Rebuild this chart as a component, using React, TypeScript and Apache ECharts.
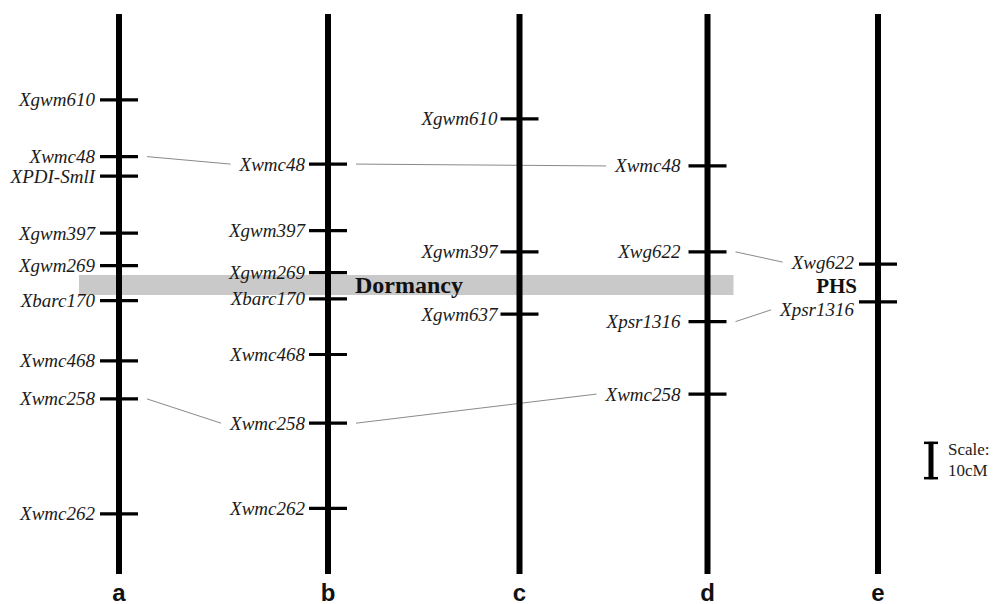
import React, { useEffect, useRef } from 'react';
import * as echarts from 'echarts';

// ---- data ----
const chromNames = ['a', 'b', 'c', 'd', 'e'];
const chromPos = [119, 328, 519.5, 707.5, 878]; // layout position along the x axis
const chromStart = 0; // cM
const chromEnd = 150; // cM

const markersA = ['Xgwm610', 'Xwmc48', 'XPDI-SmlI', 'Xgwm397', 'Xgwm269', 'Xbarc170', 'Xwmc468', 'Xwmc258', 'Xwmc262'];
const cMA = [23.0, 38.2, 43.4, 58.7, 67.4, 76.8, 92.9, 103.1, 133.9];
const markersB = ['Xwmc48', 'Xgwm397', 'Xgwm269', 'Xbarc170', 'Xwmc468', 'Xwmc258', 'Xwmc262'];
const cMB = [40.2, 58.0, 69.3, 76.3, 91.2, 109.6, 132.4];
const markersC = ['Xgwm610', 'Xgwm397', 'Xgwm637'];
const cMC = [28.1, 63.7, 80.4];
const markersD = ['Xwmc48', 'Xwg622', 'Xpsr1316', 'Xwmc258'];
const cMD = [40.7, 63.7, 82.4, 101.8];
const markersE = ['Xwg622', 'Xpsr1316'];
const cME = [67.0, 77.1];

const markerNames = [markersA, markersB, markersC, markersD, markersE];
const markerCM = [cMA, cMB, cMC, cMD, cME];

// homologous marker links: [fromChrom, marker, toChrom, marker]
const links = [
  ['a', 'Xwmc48', 'b', 'Xwmc48'],
  ['b', 'Xwmc48', 'd', 'Xwmc48'],
  ['d', 'Xwg622', 'e', 'Xwg622'],
  ['d', 'Xpsr1316', 'e', 'Xpsr1316'],
  ['a', 'Xwmc258', 'b', 'Xwmc258'],
  ['b', 'Xwmc258', 'd', 'Xwmc258'],
];

const qtlName = 'Dormancy';
const qtlStart = 69.9;
const qtlEnd = 75.3;
const phsName = 'PHS';

const scalePos = 931;
const scaleStart = 114.6;
const scaleLength = 10; // cM
const scaleLabels = ['Scale:', '10cM'];

// ---- styles ----
const SERIF = '"Liberation Serif", "Times New Roman", Times, serif';
const SANS = '"Liberation Sans", Arial, Helvetica, sans-serif';
const LABEL_FONT_SIZE = 19;
const labelGap = [5, 4, 3, 8, 5];
const labelOffset: Record<string, number> = { 'e:Xwg622': -2, 'e:Xpsr1316': 8 };
const TICK_HALF = 19;

let measureCtx: CanvasRenderingContext2D | null = null;
function textWidth(t: string, font: string) {
  if (!measureCtx) measureCtx = document.createElement('canvas').getContext('2d');
  if (!measureCtx) return t.length * 9;
  measureCtx.font = font;
  return measureCtx.measureText(t).width;
}
const labelFont = `italic ${LABEL_FONT_SIZE}px ${SERIF}`;

function idxOf(ch: string) {
  return chromNames.indexOf(ch);
}
function cmOf(ch: string, m: string) {
  const i = idxOf(ch);
  return markerCM[i][markerNames[i].indexOf(m)];
}

export default function App() {
  const ref = useRef<HTMLDivElement>(null);
  useEffect(() => {
    if (!ref.current) return;
    const chart = echarts.init(ref.current, undefined, { renderer: 'svg' });

    const markerData: number[][] = [];
    markerNames.forEach((list, ci) => {
      list.forEach((_, mi) => markerData.push([chromPos[ci], markerCM[ci][mi], ci, mi]));
    });

    const linkData = links.map((l, li) => [
      chromPos[idxOf(l[0])], cmOf(l[0], l[1]), chromPos[idxOf(l[2])], cmOf(l[2], l[3]), li,
    ]);

    const option: any = {
      animation: false,
      grid: { left: 0, right: 0, top: 14, bottom: 30 },
      xAxis: { type: 'value', min: 0, max: 993, show: false },
      yAxis: { type: 'value', min: 0, max: 150, inverse: true, show: false },
      series: [
        {
          type: 'custom',
          name: 'qtl',
          z: 1,
          silent: true,
          data: [[qtlStart, qtlEnd]],
          renderItem: (params: any, api: any) => {
            const xa = api.coord([chromPos[0], 0])[0] - 40;
            const xd = api.coord([chromPos[3], 0])[0] + 26;
            const xb = api.coord([chromPos[1], 0])[0];
            const y0 = api.coord([0, api.value(0)])[1];
            const y1 = api.coord([0, api.value(1)])[1];
            return {
              type: 'group',
              children: [
                { type: 'rect', shape: { x: xa, y: y0, width: xd - xa, height: y1 - y0 }, style: { fill: '#c9c9c9' } },
                {
                  type: 'text',
                  style: {
                    text: qtlName, x: xb + 27, y: (y0 + y1) / 2, align: 'left', verticalAlign: 'middle',
                    font: `bold 24px ${SERIF}`, fill: '#111',
                  },
                },
              ],
            };
          },
        },
        {
          type: 'custom',
          name: 'links',
          z: 2,
          silent: true,
          data: linkData,
          renderItem: (params: any, api: any) => {
            const li = api.value(4);
            const l = links[li];
            const p0 = api.coord([api.value(0), api.value(1)]);
            const p1 = api.coord([api.value(2), api.value(3)]);
            const toIdx = idxOf(l[2]);
            const w = textWidth(l[3], labelFont);
            const x0 = p0[0] + TICK_HALF + 9;
            const x1 = p1[0] - TICK_HALF - labelGap[toIdx] - w - 9;
            const y1 = p1[1] + (labelOffset[`${l[2]}:${l[3]}`] || 0);
            return {
              type: 'line',
              shape: { x1: x0, y1: p0[1], x2: x1, y2: y1 },
              style: { stroke: '#8a8a8a', lineWidth: 1 },
            };
          },
        },
        {
          type: 'custom',
          name: 'chromosomes',
          z: 3,
          silent: true,
          data: chromPos.map((p, i) => [p, chromStart, chromEnd, i]),
          renderItem: (params: any, api: any) => {
            const top = api.coord([api.value(0), api.value(1)]);
            const bot = api.coord([api.value(0), api.value(2)]);
            return {
              type: 'group',
              children: [
                { type: 'rect', shape: { x: top[0] - 3, y: top[1], width: 6, height: bot[1] - top[1] }, style: { fill: '#000' } },
                {
                  type: 'text',
                  style: {
                    text: chromNames[api.value(3)], x: top[0], y: 592, align: 'center', verticalAlign: 'middle',
                    font: `bold 24px ${SANS}`, fill: '#111',
                  },
                },
              ],
            };
          },
        },
        {
          type: 'custom',
          name: 'markers',
          z: 4,
          silent: true,
          data: markerData,
          renderItem: (params: any, api: any) => {
            const ci = api.value(2);
            const mi = api.value(3);
            const p = api.coord([api.value(0), api.value(1)]);
            const name = markerNames[ci][mi];
            const off = labelOffset[`${chromNames[ci]}:${name}`] || 0;
            return {
              type: 'group',
              children: [
                {
                  type: 'line',
                  shape: { x1: p[0] - TICK_HALF, y1: p[1], x2: p[0] + TICK_HALF, y2: p[1] },
                  style: { stroke: '#000', lineWidth: 3.2 },
                },
                {
                  type: 'text',
                  style: {
                    text: name, x: p[0] - TICK_HALF - labelGap[ci], y: p[1] + off,
                    align: 'right', verticalAlign: 'middle', font: labelFont, fill: '#1a1a1a',
                  },
                },
              ],
            };
          },
        },
        {
          type: 'custom',
          name: 'annotations',
          z: 5,
          silent: true,
          data: [[chromPos[4], (qtlStart + qtlEnd) / 2]],
          renderItem: (params: any, api: any) => {
            const p = api.coord([api.value(0), api.value(1)]);
            return {
              type: 'text',
              style: {
                text: phsName, x: p[0] - TICK_HALF - 2, y: p[1] + 1, align: 'right', verticalAlign: 'middle',
                font: `bold 21px ${SERIF}`, fill: '#111',
              },
            };
          },
        },
        {
          type: 'custom',
          name: 'scale',
          z: 5,
          silent: true,
          data: [[scalePos, scaleStart, scaleStart + scaleLength]],
          renderItem: (params: any, api: any) => {
            const t = api.coord([api.value(0), api.value(1)]);
            const b = api.coord([api.value(0), api.value(2)]);
            return {
              type: 'group',
              children: [
                { type: 'rect', shape: { x: t[0] - 2.5, y: t[1], width: 5, height: b[1] - t[1] }, style: { fill: '#000' } },
                { type: 'line', shape: { x1: t[0] - 7, y1: t[1] + 1, x2: t[0] + 7, y2: t[1] + 1 }, style: { stroke: '#000', lineWidth: 2.5 } },
                { type: 'line', shape: { x1: t[0] - 7, y1: b[1] - 1, x2: t[0] + 7, y2: b[1] - 1 }, style: { stroke: '#000', lineWidth: 2.5 } },
                {
                  type: 'text',
                  style: { text: scaleLabels[0], x: t[0] + 17, y: t[1] + 8, align: 'left', verticalAlign: 'middle', font: `17px ${SERIF}`, fill: '#222' },
                },
                {
                  type: 'text',
                  style: { text: scaleLabels[1], x: t[0] + 17, y: t[1] + 29, align: 'left', verticalAlign: 'middle', font: `17px ${SERIF}`, fill: '#222' },
                },
              ],
            };
          },
        },
      ],
    };
    chart.setOption(option);
    return () => chart.dispose();
  }, []);
  return (
    <div
      ref={ref}
      style={{ position: 'absolute', left: 0, top: 0, width: 993, height: 604, background: '#fff' }}
    />
  );
}
